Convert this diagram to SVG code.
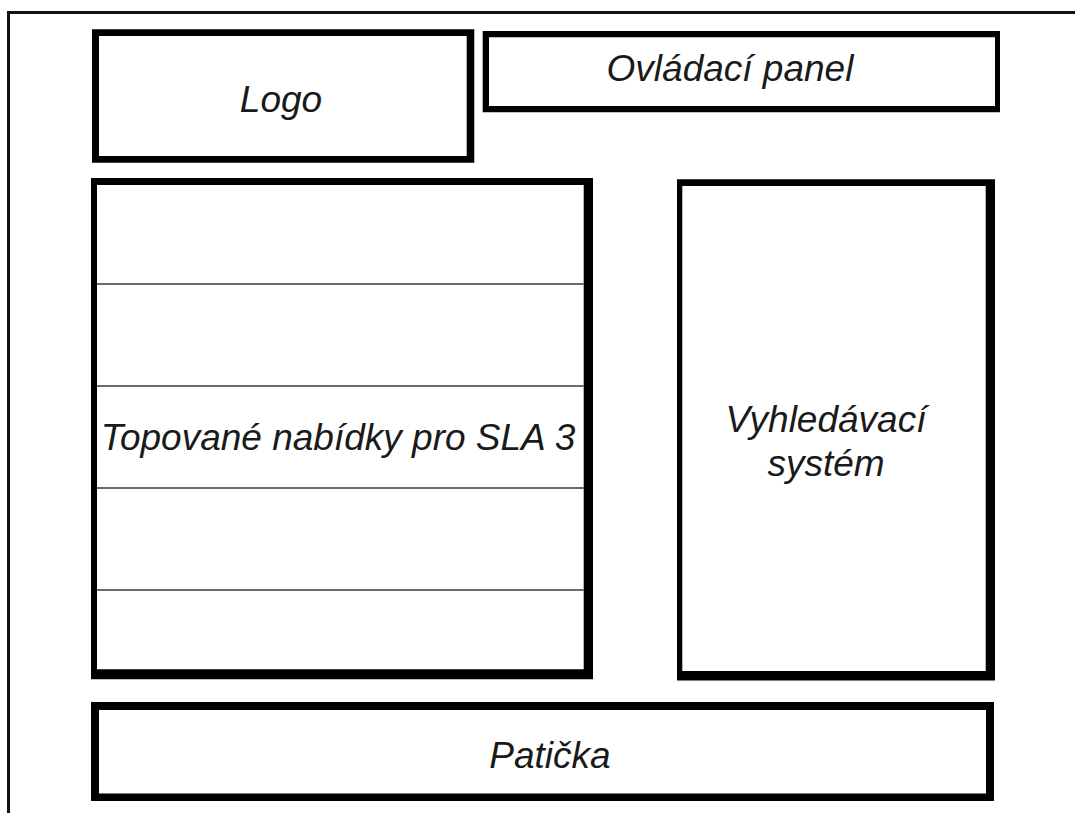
<svg xmlns="http://www.w3.org/2000/svg" width="1075" height="813" viewBox="0 0 1075 813">
<style>
.frame{fill:#000;fill-rule:evenodd;stroke:none}
.div{stroke:#3a3a3a;stroke-width:1.6;fill:none}
.border{stroke:#111;stroke-width:3;fill:none}
.lbl{font-family:"Liberation Sans",Arial,sans-serif;font-style:italic;font-size:37px;fill:#1a1a1a;text-anchor:middle}
</style>
<rect width="1075" height="813" fill="#fff"/>
<g id="page-border">
<path class="border" d="M1075,12.5 H8.5 V813"/>
</g>
<g id="logo">
<path class="frame" d="M92,29.3 H474.3 V162.7 H92 Z M99,36 V156 H466.7 V36 Z"/>
<text class="lbl" x="281" y="112">Logo</text>
</g>
<g id="ovladaci-panel">
<path class="frame" d="M482.7,31 H1000 V112.3 H482.7 Z M489,37.3 V106 H995 V37.3 Z"/>
<text class="lbl" x="730" y="81">Ovládací panel</text>
</g>
<g id="topovane-nabidky">
<path class="frame" d="M91,178 H593 V679.3 H91 Z M97,185 V669.3 H583.7 V185 Z"/>
<line class="div" x1="97" y1="284" x2="583.7" y2="284"/>
<line class="div" x1="97" y1="386" x2="583.7" y2="386"/>
<line class="div" x1="97" y1="488" x2="583.7" y2="488"/>
<line class="div" x1="97" y1="590" x2="583.7" y2="590"/>
<text class="lbl" x="338" y="450">Topované nabídky pro SLA 3</text>
</g>
<g id="vyhledavaci-system">
<path class="frame" d="M677,179.3 H995 V680.5 H677 Z M682.3,186 V671 H985.7 V186 Z"/>
<text class="lbl" x="826" y="432">Vyhledávací</text>
<text class="lbl" x="826" y="476">systém</text>
</g>
<g id="paticka">
<path class="frame" d="M91,702 H994 V801 H91 Z M99,710 V793.5 H986 V710 Z"/>
<text class="lbl" x="550" y="768">Patička</text>
</g>
<g id="connectors"></g>
</svg>
